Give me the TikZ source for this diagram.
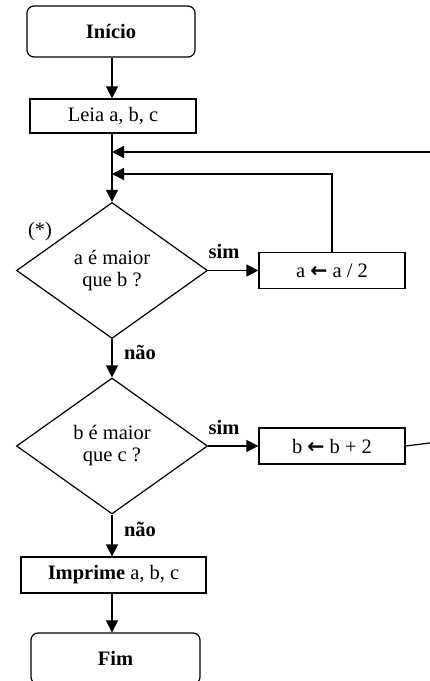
\documentclass[tikz,border=0pt]{standalone}
\usepackage{fontspec}
\setmainfont{Liberation Serif}
\newfontfamily\setafont{DejaVu Sans}
\usetikzlibrary{arrows.meta,shapes.geometric}
\tikzset{
	caixa/.style={draw,line width=1.2pt,inner sep=0pt,minimum height=36pt},
	terminal/.style={caixa,rounded corners=7pt,minimum height=51pt,font=\fontsize{20.5}{23}\selectfont\bfseries},
	decisao/.style={draw,diamond,line width=1.2pt,inner sep=0pt,aspect=1.4,
			minimum width=191pt,minimum height=136pt,align=center},
	fluxo/.style={line width=1.2pt,-{Triangle[length=12pt,width=12pt]}},
	rotulo/.style={font=\fontsize{20.5}{23}\selectfont\bfseries}
}

\begin{document}
\begin{tikzpicture}[x=1pt,y=-1pt,font=\fontsize{20.5}{22}\selectfont]
        \useasboundingbox (0,0) rectangle (430,681);
        \node[terminal,minimum width=168pt] (inicio) at (111,31.5) {Início};
        \node[caixa,minimum width=166pt,minimum height=34pt] (leia) at (113,116) {Leia a, b, c};
        \node[decisao] (d1) at (112,270.5) {a é maior\\que b ?};
        \node[caixa,minimum width=146pt] (divide) at (332,270.5) {a {\setafont\bfseries ←} a / 2};
        \node[decisao] (d2) at (112,446) {b é maior\\que c ?};
        \node[caixa,minimum width=146pt] (soma) at (332,446) {b {\setafont\bfseries ←} b + 2};
        \node[caixa,minimum width=185pt] (imprime) at (113.5,575) {\textbf{Imprime} a, b, c};
        \node[terminal,minimum width=169pt] (fim) at (115.5,658.5) {Fim};
        \node (asterisco) at (40,232) {(*)};
        \node[rotulo] (sim_1) at (224,251) {sim};
        \node[rotulo] (sim_2) at (224,427) {sim};
        \node[rotulo] (nao_1) at (140,352) {não};
        \node[rotulo] (nao_2) at (140,529) {não};
        \coordinate (entrada) at (430,152);
        \coordinate (volta_1) at (112,152);
        \coordinate (volta_2) at (112,174);
        \coordinate (saida) at (430,443);
        \draw[fluxo] (inicio.south -| d1.north) -- (leia.north -| d1.north);
        \draw[fluxo] (leia.south -| d1.north) -- (d1.north);
        \draw[fluxo] (entrada) -- (volta_1);
        \draw[fluxo] (divide.north) |- (volta_2);
        \draw[fluxo] (d1.east) -- (divide.west);
        \draw[fluxo] (d1.south) -- (d2.north);
        \draw[fluxo] (d2.east) -- (soma.west);
        \draw[line width=1.2pt] (soma.east) -- (saida);
        \draw[fluxo] (d2.south) -- (d2.south |- imprime.north);
        \draw[fluxo] (d2.south |- imprime.south) -- (d2.south |- fim.north);
    \end{tikzpicture}
\end{document}
